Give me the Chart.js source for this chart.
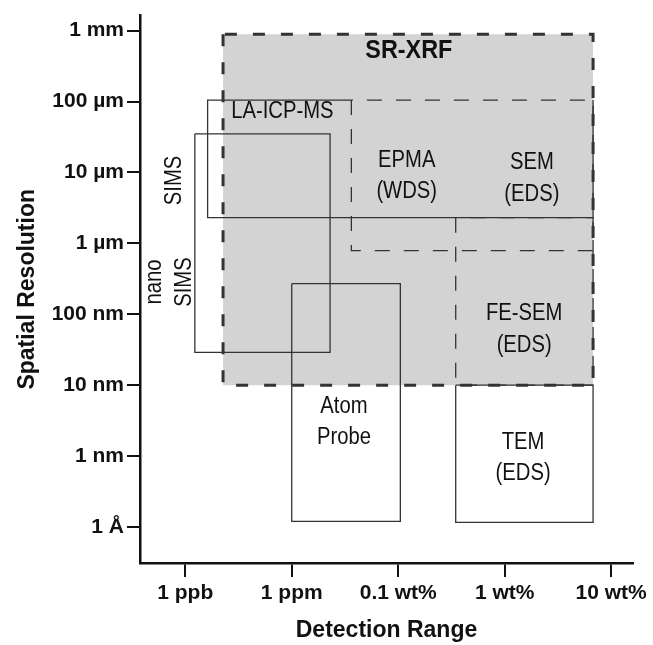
<!DOCTYPE html>
<html>
<head>
<meta charset="utf-8">
<script src="https://cdn.jsdelivr.net/npm/chart.js@4"></script>
<style>
  html, body { margin: 0; padding: 0; background: #fff; }
  #wrap { width: 653px; height: 645px; position: relative; }
</style>
</head>
<body>
<div id="wrap"><canvas id="chart"></canvas></div>
<script>
// detection range is drawn as evenly spaced steps, not a true log axis
const xTickLabels = ['1 ppb', '1 ppm', '0.1 wt%', '1 wt%', '10 wt%'];
const xTickValues = [0, 1, 2, 3, 4];

// spatial resolution in metres
const yTickLabels = ['1 Å', '1 nm', '10 nm', '100 nm', '1 µm', '10 µm', '100 µm', '1 mm'];
const yTickValues = [1e-10, 1e-9, 1e-8, 1e-7, 1e-6, 1e-5, 1e-4, 1e-3];

// technique boxes: detection range (xFrom..xTo), resolution (yFrom..yTo)
const techniques = ['SR-XRF', 'LA-ICP-MS', 'EPMA', 'FE-SEM', 'TEM', 'SIMS', 'Atom Probe'];
const xFrom = [0.355, 0.21, 1.56, 2.54, 2.54, 0.09, 1.0];
const xTo = [3.83, 3.83, 3.83, 3.83, 3.83, 1.36, 2.02];
const yFrom = [1e-8, 2.3e-6, 7.9e-7, 1e-8, 1.16e-10, 2.9e-8, 1.2e-10];
const yTo = [8.9e-4, 1.05e-4, 1.05e-4, 2.3e-6, 1e-8, 3.5e-5, 2.7e-7];

// text placed inside the plot (data units)
const noteText = [['SR-XRF'], ['LA-ICP-MS'], ['EPMA', '(WDS)'], ['SEM', '(EDS)'], ['FE-SEM', '(EDS)'],
  ['TEM', '(EDS)'], ['Atom', 'Probe'], ['SIMS'], ['nano', 'SIMS']];
const noteX = [2.10, 0.912, 2.08, 3.255, 3.183, 3.173, 1.49, -0.096, -0.148];
const noteY = [5.2e-4, 7.2e-5, 8.8e-6, 8.2e-6, 6.1e-8, 9.3e-10, 3.0e-9, 7.7e-6, 2.84e-7];
const noteVertical = [false, false, false, false, false, false, false, true, true];

const FONT = '"Liberation Sans", Arial, Helvetica, sans-serif';
const INK = '#111';
const LINE = '#333';

function box(i) {
  return [
    { x: xFrom[i], y: yTo[i] },
    { x: xFrom[i], y: yFrom[i] },
    { x: xTo[i], y: yFrom[i] },
    { x: xTo[i], y: yTo[i] },
    { x: xFrom[i], y: yTo[i] }
  ];
}

function outline(i, dash, width) {
  return {
    label: techniques[i],
    data: box(i),
    showLine: true,
    pointRadius: 0,
    borderColor: LINE,
    borderWidth: width,
    borderDash: dash,
    borderJoinStyle: 'miter',
    fill: false,
    tension: 0
  };
}

// LA-ICP-MS: its top edge right of EPMA is EPMA's dashed line
const laIndex = 1;
const epmaIndex = 2;
const laOutline = outline(laIndex, [], 1.3);
laOutline.data = [
  { x: xFrom[epmaIndex], y: yTo[laIndex] },
  { x: xFrom[laIndex], y: yTo[laIndex] },
  { x: xFrom[laIndex], y: yFrom[laIndex] },
  { x: xTo[laIndex], y: yFrom[laIndex] },
  { x: xTo[laIndex], y: yTo[laIndex] }
];

const datasets = [
  outline(0, [12, 16], 3),
  laOutline,
  outline(2, [15, 14], 1.3),
  outline(3, [15, 14], 1.3),
  outline(4, [], 1.3),
  outline(5, [], 1.3),
  outline(6, [], 1.3),
  {
    label: 'SR-XRF area',
    data: [{ x: xFrom[0], y: yTo[0] }, { x: xTo[0], y: yTo[0] }],
    showLine: true,
    pointRadius: 0,
    borderWidth: 0,
    backgroundColor: '#d3d3d3',
    fill: { value: yFrom[0] },
    order: 1
  }
];

const notesPlugin = {
  id: 'notes',
  afterDatasetsDraw(chart) {
    const { ctx, scales } = chart;
    ctx.save();
    ctx.fillStyle = INK;
    ctx.textAlign = 'center';
    ctx.textBaseline = 'middle';
    noteText.forEach((lines, i) => {
      const px = scales.x.getPixelForValue(noteX[i]);
      const py = scales.y.getPixelForValue(noteY[i]);
      const bold = i === 0;
      const gap = noteVertical[i] ? 29.5 : 31.5;
      ctx.save();
      ctx.translate(px, py);
      if (noteVertical[i]) ctx.rotate(-Math.PI / 2);
      ctx.scale(bold ? 0.9 : 0.88, 1);
      ctx.font = (bold ? 'bold 26px ' : '23px ') + FONT;
      lines.forEach((line, k) => {
        ctx.fillText(line, 0, (k - (lines.length - 1) / 2) * gap);
      });
      ctx.restore();
    });
    ctx.restore();
  }
};

new Chart(document.querySelector('#chart'), {
  type: 'scatter',
  data: { datasets },
  plugins: [notesPlugin],
  options: {
    responsive: true,
    maintainAspectRatio: false,
    animation: false,
    layout: { padding: { top: 12, right: 20, bottom: 0, left: 0 } },
    plugins: {
      legend: { display: false },
      tooltip: { enabled: false }
    },
    scales: {
      x: {
        type: 'linear',
        min: -0.425,
        max: 4.205,
        afterBuildTicks: (scale) => {
          scale.ticks = xTickValues.map((v) => ({ value: v }));
        },
        afterFit: (scale) => { scale.height = 82; },
        grid: { drawOnChartArea: false, color: INK, lineWidth: 2, tickLength: 14 },
        border: { color: INK, width: 2.5 },
        ticks: {
          color: INK,
          padding: 4,
          maxRotation: 0,
          autoSkip: false,
          font: { family: FONT, size: 21, weight: 'bold' },
          callback: (value) => xTickLabels[xTickValues.indexOf(value)]
        },
        title: {
          display: true,
          text: 'Detection Range',
          color: INK,
          padding: { top: 0, bottom: 1 },
          font: { family: FONT, size: 23, weight: 'bold' }
        }
      },
      y: {
        type: 'logarithmic',
        min: 3.1e-11,
        max: 1.63e-3,
        afterBuildTicks: (scale) => {
          scale.ticks = yTickValues.map((v) => ({ value: v }));
        },
        afterFit: (scale) => { scale.width = 140; },
        grid: { drawOnChartArea: false, color: INK, lineWidth: 2, tickLength: 13 },
        border: { color: INK, width: 2.5 },
        ticks: {
          color: INK,
          padding: 3,
          autoSkip: false,
          font: { family: FONT, size: 21, weight: 'bold' },
          callback: (value) => yTickLabels[yTickValues.indexOf(value)]
        },
        title: {
          display: true,
          text: 'Spatial Resolution',
          color: INK,
          padding: { top: 14, bottom: 0 },
          font: { family: FONT, size: 23, weight: 'bold' }
        }
      }
    }
  }
});
</script>
</body>
</html>
